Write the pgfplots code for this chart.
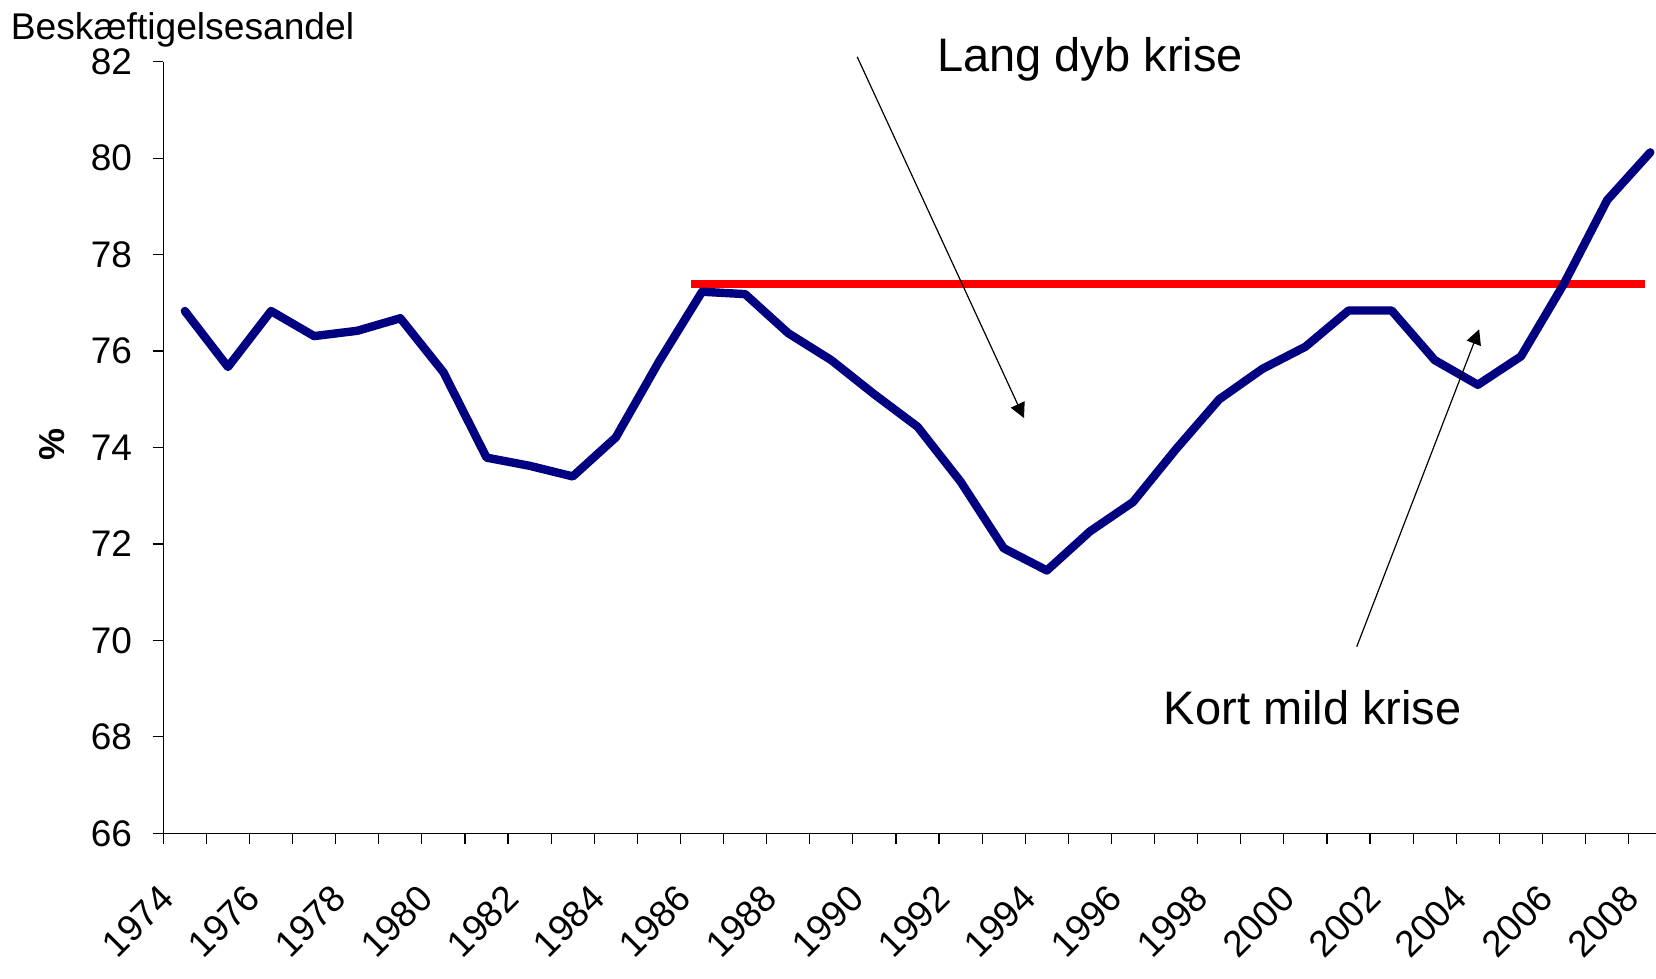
\documentclass[border=0pt]{standalone}
\usepackage{fontspec}
\setmainfont{Liberation Sans}
\usepackage{pgfplots}
\pgfplotsset{compat=1.18}
\usetikzlibrary{arrows.meta}
\definecolor{navyline}{RGB}{0,0,128}
\definecolor{redline}{RGB}{255,0,0}
\pgfplotstableread{
year val
1974 76.83
1975 75.67
1976 76.83
1977 76.31
1978 76.42
1979 76.68
1980 75.56
1981 73.79
1982 73.62
1983 73.40
1984 74.21
1985 75.78
1986 77.23
1987 77.18
1988 76.37
1989 75.81
1990 75.10
1991 74.43
1992 73.29
1993 71.91
1994 71.45
1995 72.26
1996 72.87
1997 73.97
1998 75.00
1999 75.63
2000 76.09
2001 76.84
2002 76.84
2003 75.81
2004 75.30
2005 75.89
2006 77.40
2007 79.13
2008 80.12
}\datatable
\begin{document}
\begin{tikzpicture}
\useasboundingbox (-81.65pt,-72.85pt) rectangle (746.35pt,416.65pt);
\begin{axis}[
  at={(0pt,0pt)}, anchor=south west,
  scale only axis,
  width=746.35pt, height=385.8pt,
  xmin=1973.5, xmax=2008.133,
  ymin=66, ymax=82,
  axis lines*=left,
  axis line style={black, line width=0.6pt},
  clip=false,
  tick align=outside,
  major tick length=5.3pt,
  minor tick length=5.3pt,
  tick style={black, line width=0.6pt},
  xtick={1974,1976,...,2008},
  xticklabels={1974,1976,1978,1980,1982,1984,1986,1988,1990,1992,1994,1996,1998,2000,2002,2004,2006,2008},
  major x tick style={draw=none},
  minor xtick={1973.5,1974.5,...,2007.5},
  ytick={66,68,...,82},
  /pgf/number format/assume math mode=true,
  yticklabel style={font=\fontsize{18.5}{22}\selectfont, xshift=-6.8pt},
  xticklabel style={font=\fontsize{18.5}{22}\selectfont, xshift=-6.45pt, yshift=-21.5pt, rotate=45, anchor=east},
]
\addplot[redline, line width=4pt] coordinates {(1985.74,77.40) (2007.87,77.40)};
\addplot[navyline, line width=4.2pt, line join=round, line cap=round] table[x=year, y=val] {\datatable};
\draw[-{Triangle[length=7.5pt,width=7.5pt]}, line width=0.6pt] (axis cs:1989.60,82.10) -- (axis cs:1993.47,74.61);
\draw[-{Triangle[length=7.5pt,width=7.5pt]}, line width=0.6pt] (axis cs:2001.19,69.87) -- (axis cs:2004.03,76.45);
\node[anchor=base, inner sep=0pt, font=\fontsize{23.5}{28}\selectfont] at (axis cs:1995,81.79) {Lang dyb krise};
\node[anchor=base, inner sep=0pt, font=\fontsize{23.5}{28}\selectfont] at (axis cs:2000.17,68.26) {Kort mild krise};
\end{axis}
\node[anchor=base west, inner sep=0pt, font=\fontsize{18.6}{22}\selectfont] at (-76.4pt,397pt) {Beskæftigelsesandel};
\node[rotate=90, inner sep=0pt, font=\bfseries\fontsize{18}{21}\selectfont] at (-55.8pt,194.5pt) {\%};
\end{tikzpicture}
\end{document}
